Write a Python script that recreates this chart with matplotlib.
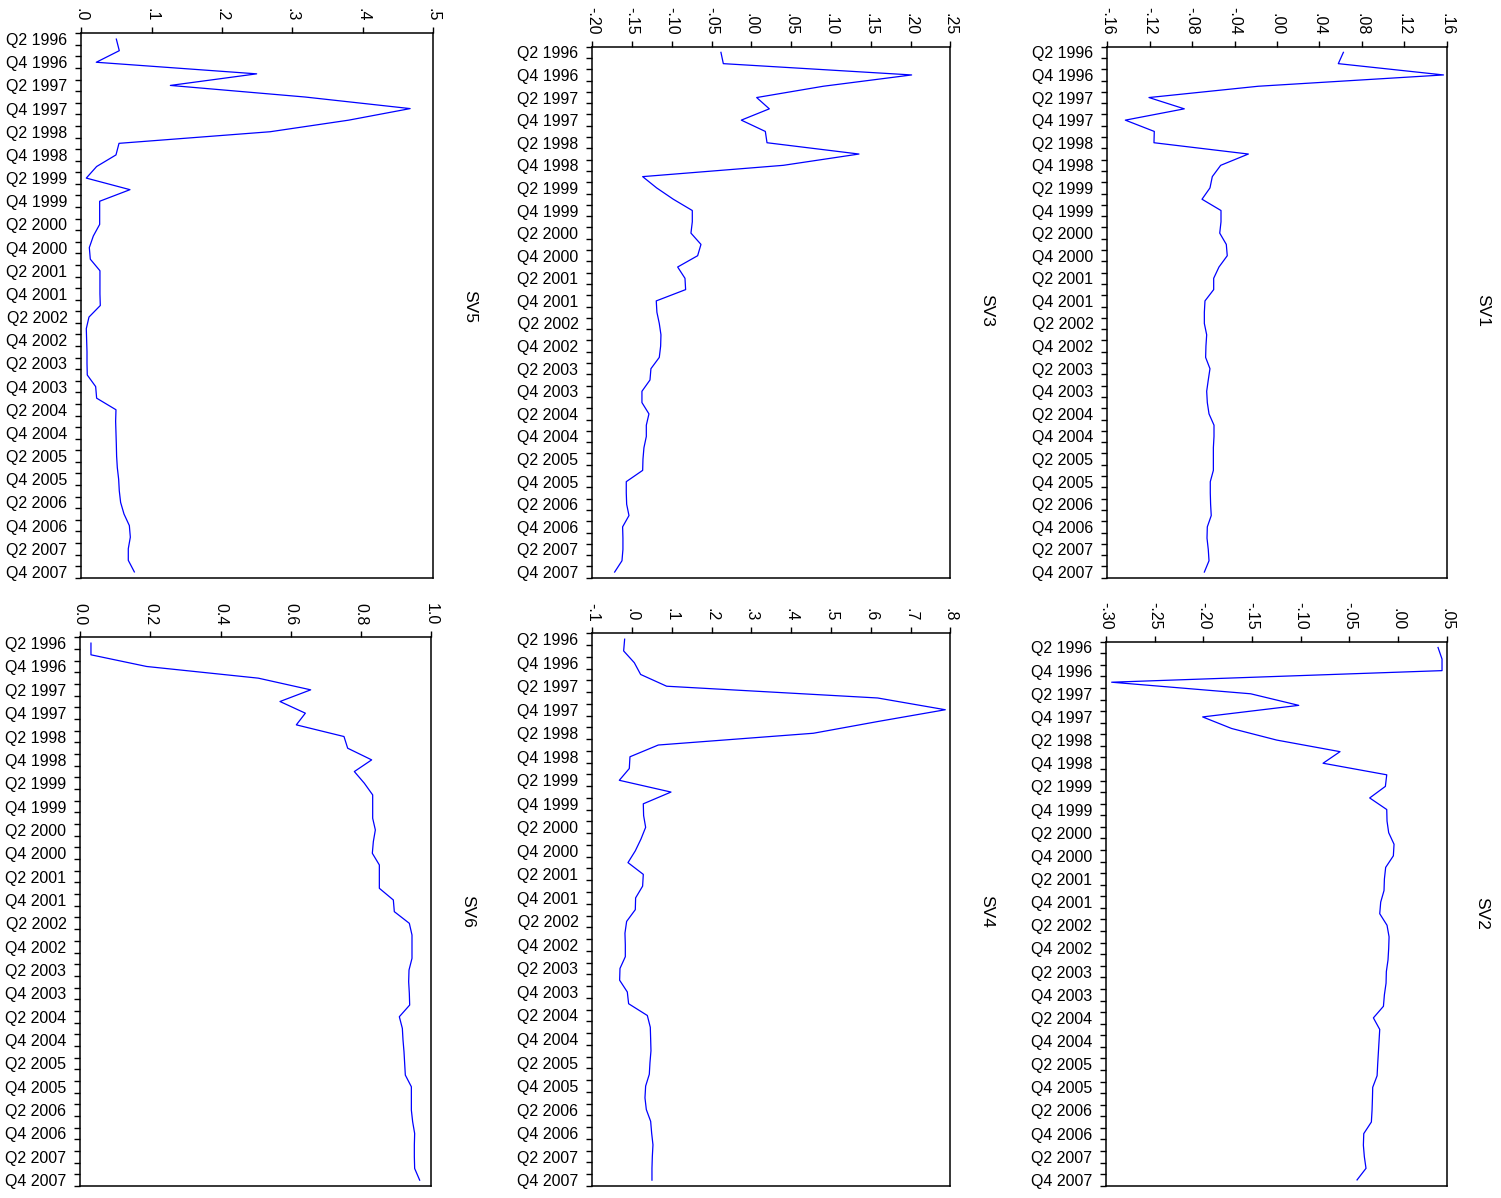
import numpy as np
import matplotlib
matplotlib.use("Agg")
import matplotlib.pyplot as plt

plt.rcParams['font.family'] = ['Liberation Sans', 'DejaVu Sans']

# 47 quarterly observations, Q2 1996 .. Q4 2007
n_obs = 47
period_labels = ["Q2 1996", "Q4 1996", "Q2 1997", "Q4 1997", "Q2 1998", "Q4 1998",
                 "Q2 1999", "Q4 1999", "Q2 2000", "Q4 2000", "Q2 2001", "Q4 2001",
                 "Q2 2002", "Q4 2002", "Q2 2003", "Q4 2003", "Q2 2004", "Q4 2004",
                 "Q2 2005", "Q4 2005", "Q2 2006", "Q4 2006", "Q2 2007", "Q4 2007"]

sv1 = [0.0626, 0.0578, 0.157, -0.0176, -0.1207, -0.0874, -0.143, -0.1157, -0.116, -0.027,
       -0.0531, -0.061, -0.0632, -0.0707, -0.0528, -0.0528, -0.054, -0.0478, -0.0469, -0.0547,
       -0.0597, -0.0597, -0.0679, -0.0685, -0.0685, -0.0663, -0.067, -0.0673, -0.0632, -0.0648,
       -0.0663, -0.0657, -0.0641, -0.0594, -0.0594, -0.06, -0.06, -0.06, -0.0629, -0.0629,
       -0.0626, -0.062, -0.0657, -0.066, -0.0648, -0.0641, -0.0685]

sv2 = [0.0411, 0.0452, 0.0452, -0.2942, -0.1514, -0.102, -0.2007, -0.1709, -0.1246, -0.0596,
       -0.077, -0.0116, -0.013, -0.0291, -0.0116, -0.0113, -0.0096, -0.0041, -0.0048, -0.0127,
       -0.014, -0.0144, -0.0178, -0.0188, -0.0113, -0.0092, -0.0096, -0.0103, -0.012, -0.0123,
       -0.014, -0.015, -0.0253, -0.0188, -0.0195, -0.0202, -0.0209, -0.0215, -0.026, -0.0263,
       -0.0267, -0.0274, -0.0352, -0.0356, -0.0346, -0.0329, -0.0421]

sv3 = [-0.0383, -0.0353, 0.2014, 0.0904, 0.0066, 0.0225, -0.0127, 0.0175, 0.0196, 0.1352,
       0.0401, -0.1367, -0.1191, -0.0982, -0.0743, -0.0743, -0.076, -0.0634, -0.0676, -0.0927,
       -0.0835, -0.0827, -0.1196, -0.1188, -0.1158, -0.1137, -0.1141, -0.1158, -0.1263, -0.1275,
       -0.1376, -0.1376, -0.1288, -0.1321, -0.1321, -0.1351, -0.1363, -0.1367, -0.1573, -0.1573,
       -0.1568, -0.1539, -0.1619, -0.1615, -0.1615, -0.1627, -0.1719]

sv4 = [-0.0187, -0.0212, 0.0056, 0.0215, 0.0869, 0.6173, 0.7874, 0.618, 0.4557, 0.0659,
       -0.0053, -0.007, -0.0321, 0.0978, 0.0282, 0.029, 0.0341, 0.0223, 0.0081, -0.0103,
       0.0282, 0.0265, 0.0089, 0.0081, -0.0137, -0.0179, -0.017, -0.017, -0.0304, -0.0313,
       -0.012, -0.0087, 0.0383, 0.0458, 0.0467, 0.0475, 0.045, 0.0433, 0.0341, 0.0324,
       0.0358, 0.0467, 0.0492, 0.0525, 0.0509, 0.05, 0.05]

sv5 = [0.0498, 0.054, 0.0213, 0.2493, 0.1266, 0.318, 0.4675, 0.38, 0.2683, 0.0536,
       0.0493, 0.0218, 0.0071, 0.0692, 0.0261, 0.0261, 0.0261, 0.0171, 0.0114, 0.0128,
       0.0265, 0.0265, 0.0265, 0.027, 0.0109, 0.0071, 0.0076, 0.0081, 0.0081, 0.0085,
       0.0204, 0.0218, 0.0493, 0.0488, 0.0493, 0.0498, 0.0502, 0.0512, 0.0531, 0.054,
       0.0559, 0.0607, 0.0683, 0.0697, 0.0668, 0.0668, 0.0754]

sv6 = [0.0304, 0.0304, 0.1892, 0.5076, 0.6569, 0.5694, 0.6417, 0.616, 0.7519, 0.7624,
       0.8308, 0.7814, 0.8099, 0.8337, 0.8337, 0.8337, 0.8413, 0.8356, 0.8327, 0.8527,
       0.8527, 0.8527, 0.8926, 0.8954, 0.9382, 0.9458, 0.9458, 0.9458, 0.9373, 0.9363,
       0.9382, 0.9392, 0.9097, 0.9183, 0.9202, 0.923, 0.9249, 0.9268, 0.944, 0.944,
       0.944, 0.9477, 0.9534, 0.9525, 0.9525, 0.9534, 0.9677]

sv1_ticks = [-0.16, -0.12, -0.08, -0.04, 0.0, 0.04, 0.08, 0.12, 0.16]
sv1_ticklabels = ["-.16", "-.12", "-.08", "-.04", ".00", ".04", ".08", ".12", ".16"]
sv2_ticks = [-0.30, -0.25, -0.20, -0.15, -0.10, -0.05, 0.0, 0.05]
sv2_ticklabels = ["-.30", "-.25", "-.20", "-.15", "-.10", "-.05", ".00", ".05"]
sv3_ticks = [-0.20, -0.15, -0.10, -0.05, 0.0, 0.05, 0.10, 0.15, 0.20, 0.25]
sv3_ticklabels = ["-.20", "-.15", "-.10", "-.05", ".00", ".05", ".10", ".15", ".20", ".25"]
sv4_ticks = [-0.1, 0.0, 0.1, 0.2, 0.3, 0.4, 0.5, 0.6, 0.7, 0.8]
sv4_ticklabels = ["-.1", ".0", ".1", ".2", ".3", ".4", ".5", ".6", ".7", ".8"]
sv5_ticks = [0.0, 0.1, 0.2, 0.3, 0.4, 0.5]
sv5_ticklabels = [".0", ".1", ".2", ".3", ".4", ".5"]
sv6_ticks = [0.0, 0.2, 0.4, 0.6, 0.8, 1.0]
sv6_ticklabels = ["0.0", "0.2", "0.4", "0.6", "0.8", "1.0"]

W, H = 1501, 1198
fig = plt.figure(figsize=(W / 100, H / 100), dpi=100)
fig.patch.set_facecolor("white")

panels = [
    ("SV1", sv1, sv1_ticks, sv1_ticklabels, (1107.3, 46.7, 1446.7, 577.7), (1483, 310)),
    ("SV2", sv2, sv2_ticks, sv2_ticklabels, (1106.0, 641.7, 1446.7, 1185.7), (1482, 913)),
    ("SV3", sv3, sv3_ticks, sv3_ticklabels, (592.3, 46.7, 950.3, 577.7), (987, 310)),
    ("SV4", sv4, sv4_ticks, sv4_ticklabels, (592.3, 633.3, 950.3, 1186.0), (987, 911)),
    ("SV5", sv5, sv5_ticks, sv5_ticklabels, (81.3, 33.3, 433.0, 577.7), (470, 306)),
    ("SV6", sv6, sv6_ticks, sv6_ticklabels, (80.3, 637.3, 431.0, 1186.0), (468, 911)),
]

fs = 11.5
for name, vals, ticks, ticklabels, (l, t, r, b), (tx, ty) in panels:
    ax = fig.add_axes([l / W, 1 - b / H, (r - l) / W, (b - t) / H])
    obs = np.arange(len(vals))
    ax.plot(vals, obs, color="#0000ff", lw=0.9)
    ax.set_ylim(n_obs - 0.5, -0.5)
    ax.set_xlim(ticks[0], ticks[-1])

    # value axis on top, rotated labels
    ax.xaxis.set_ticks_position("top")
    ax.xaxis.set_label_position("top")
    ax.set_xticks(ticks)
    ax.set_xticklabels(ticklabels, rotation=-90, fontsize=fs)
    ax.tick_params(axis="x", which="major", direction="out", length=4.5, width=1.0, pad=4)

    # time axis on the left
    ax.set_yticks(np.arange(0, n_obs, 2))
    ax.set_yticklabels(period_labels, fontsize=fs)
    ax.set_yticks(np.arange(-0.5, n_obs, 1.0), minor=True)
    ax.tick_params(axis="y", which="major", length=0, pad=10)
    ax.tick_params(axis="y", which="minor", direction="out", length=4.5, width=1.0)
    ax.tick_params(right=False, bottom=False)

    for sp in ax.spines.values():
        sp.set_linewidth(1.1)
        sp.set_color("black")

    fig.text(tx / W, 1 - ty / H, name, rotation=-90, ha="center", va="center", fontsize=fs + 1)

fig.savefig("out.png", dpi=100, facecolor="white")
